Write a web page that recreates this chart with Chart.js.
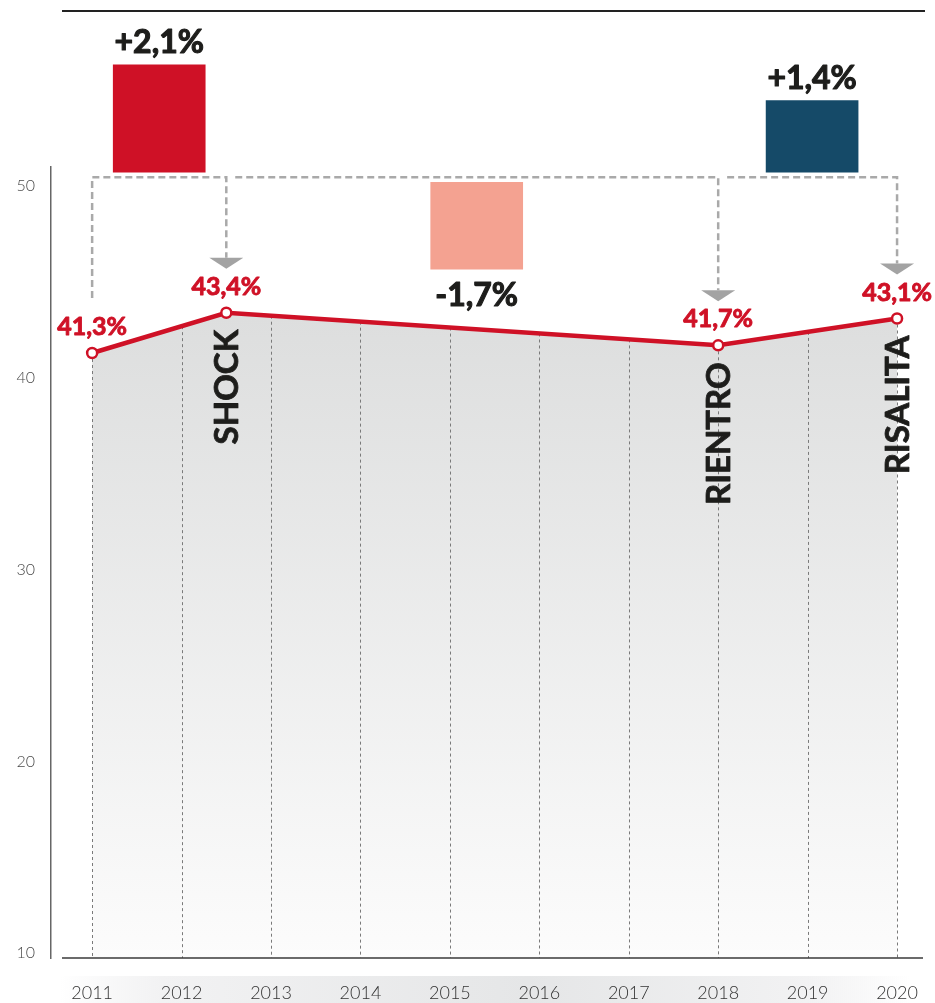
<!DOCTYPE html>
<html>
<head>
<meta charset="utf-8">
<title>Shock, rientro, risalita</title>
<script src="https://cdn.jsdelivr.net/npm/chart.js"></script>
<style>
  html, body { margin: 0; padding: 0; background: #fff; }
  #wrap { position: relative; width: 935px; height: 1003px; }
</style>
</head>
<body>
<div id="wrap"><canvas id="shockChart" width="935" height="1003"></canvas></div>
<script>
// years shown on the x axis
const years = [2011, 2012, 2013, 2014, 2015, 2016, 2017, 2018, 2019, 2020];
const yTicks = [10, 20, 30, 40, 50];

// the four points of the series (2012 peak sits mid-year)
const pointYears = [2011, 2012.5, 2018, 2020];
const pointValues = [41.3, 43.4, 41.7, 43.1];

// one phase between each pair of points
const phaseNames = ['SHOCK', 'RIENTRO', 'RISALITA'];
const phaseColors = ['#cf1126', '#f4a291', '#154a68'];

const RED = '#cf1126';
const INK = '#1d1d1b';
const FONT = 'Lato, "Open Sans", sans-serif';

function itNum(v, digits) {
  return v.toFixed(digits).replace('.', ',');
}

// heavy text: fill plus a thin outline in the same colour
function heavyText(c, txt, x, y, w) {
  c.lineWidth = w;
  c.lineJoin = 'round';
  c.strokeStyle = c.fillStyle;
  c.strokeText(txt, x, y);
  c.fillText(txt, x, y);
}

// change in each phase, from the point values
const phaseDeltas = phaseNames.map((n, i) =>
  Math.round((pointValues[i + 1] - pointValues[i]) * 10) / 10);

// brackets after the first start a little past the previous corner
const BRACKET_STEP = 0.1;
// floating bars just off the zero line (gap in bar units)
const BAR_GAP = 0.1;
const barData = phaseDeltas.map((d, i) => ({
  x: (pointYears[i] + (i > 0 ? BRACKET_STEP : 0) + pointYears[i + 1]) / 2,
  y: d >= 0 ? [BAR_GAP, BAR_GAP + d] : [-BAR_GAP, -BAR_GAP + d]
}));

const lineData = pointYears.map((yr, i) => ({ x: yr, y: pointValues[i] }));

function valueAt(yr) {
  for (let i = 0; i < pointYears.length - 1; i++) {
    const a = pointYears[i], b = pointYears[i + 1];
    if (yr >= a && yr <= b) {
      return pointValues[i] + (pointValues[i + 1] - pointValues[i]) * (yr - a) / (b - a);
    }
  }
  return null;
}

const decorations = {
  id: 'decorations',
  beforeDraw(chart) {
    const c = chart.ctx, area = chart.chartArea;
    c.save();
    // light band behind the year labels
    const g = c.createLinearGradient(60, 0, 910, 0);
    g.addColorStop(0, 'rgba(240,240,241,0)');
    g.addColorStop(0.12, '#f2f2f3');
    g.addColorStop(0.55, '#e5e6e7');
    g.addColorStop(0.88, '#f2f2f3');
    g.addColorStop(1, 'rgba(240,240,241,0)');
    c.fillStyle = g;
    c.fillRect(60, 976, 850, 27);
    // rule at the top
    c.strokeStyle = '#222';
    c.lineWidth = 2;
    c.beginPath();
    c.moveTo(area.left + 11, 11);
    c.lineTo(area.right + 2, 11);
    c.stroke();
    c.restore();
  },
  beforeDatasetsDraw(chart) {
    const c = chart.ctx, area = chart.chartArea;
    const xs = chart.scales.x, ys = chart.scales.y;
    c.save();
    // dotted drop lines under the curve
    c.strokeStyle = '#7a7a7a';
    c.lineWidth = 1;
    c.setLineDash([3, 3]);
    years.forEach(yr => {
      const v = valueAt(yr);
      if (v === null) return;
      const px = Math.round(xs.getPixelForValue(yr)) + 0.5;
      c.beginPath();
      c.moveTo(px, ys.getPixelForValue(v));
      c.lineTo(px, area.bottom);
      c.stroke();
    });
    c.setLineDash([]);
    // baseline
    c.strokeStyle = '#3a3a3a';
    c.lineWidth = 1.6;
    c.beginPath();
    c.moveTo(area.left + 11, area.bottom);
    c.lineTo(area.right, area.bottom);
    c.stroke();
    c.restore();
  },
  afterDatasetsDraw(chart) {
    const c = chart.ctx;
    const xs = chart.scales.x, ys = chart.scales.y, yb = chart.scales.yb;
    const zeroY = yb.getPixelForValue(0);
    const pts = pointYears.map((yr, i) => ({
      x: xs.getPixelForValue(yr),
      y: ys.getPixelForValue(pointValues[i])
    }));
    c.save();

    // dashed brackets from each phase bar to its end point
    c.strokeStyle = '#a9a9a9';
    c.lineWidth = 2.5;
    c.setLineDash([7, 4]);
    phaseNames.forEach((n, i) => {
      const p0 = pts[i], p1 = pts[i + 1];
      const arrowTip = p1.y - 44;
      c.beginPath();
      if (i === 0) {
        c.moveTo(p0.x, p0.y - 55);
        c.lineTo(p0.x, zeroY);
      } else {
        c.moveTo(xs.getPixelForValue(pointYears[i] + BRACKET_STEP), zeroY);
      }
      c.lineTo(p1.x, zeroY);
      c.lineTo(p1.x, arrowTip - 11);
      c.stroke();
    });
    c.setLineDash([]);
    c.fillStyle = '#a3a3a3';
    phaseNames.forEach((n, i) => {
      const p1 = pts[i + 1];
      const tip = p1.y - 44;
      c.beginPath();
      c.moveTo(p1.x - 17, tip - 11);
      c.lineTo(p1.x + 17, tip - 11);
      c.lineTo(p1.x, tip);
      c.closePath();
      c.fill();
    });

    // value labels over the points
    c.fillStyle = RED;
    c.font = 'bold 25px ' + FONT;
    c.textAlign = 'center';
    c.textBaseline = 'middle';
    pts.forEach((p, i) => {
      heavyText(c, itNum(pointValues[i], 1) + '%', p.x, p.y - 26, 0.9);
    });

    // delta labels on the bars
    const bars = chart.getDatasetMeta(1).data;
    c.fillStyle = INK;
    c.font = 'bold 32px ' + FONT;
    bars.forEach((bar, i) => {
      const d = phaseDeltas[i];
      const txt = (d >= 0 ? '+' : '-') + itNum(Math.abs(d), 1) + '%';
      heavyText(c, txt, bar.x, d >= 0 ? bar.y - 22 : bar.y + 27, 1.1);
    });

    // phase names, vertical under the end point
    c.font = 'bold 33px ' + FONT;
    c.textAlign = 'right';
    phaseNames.forEach((n, i) => {
      const p = pts[i + 1];
      c.save();
      c.translate(p.x + 1, p.y + 17);
      c.rotate(-Math.PI / 2);
      heavyText(c, n, 0, 0, 0.8);
      c.restore();
    });
    c.restore();
  }
};

const ctx = document.getElementById('shockChart').getContext('2d');
new Chart(ctx, {
  type: 'line',
  data: {
    datasets: [
      {
        type: 'line',
        data: lineData,
        yAxisID: 'y',
        borderColor: RED,
        borderWidth: 4.5,
        tension: 0,
        pointRadius: 5,
        pointBorderWidth: 2.5,
        pointBackgroundColor: '#fff',
        pointBorderColor: RED,
        fill: 'start',
        backgroundColor(context) {
          const area = context.chart.chartArea;
          if (!area) return '#e0e1e1';
          const g = context.chart.ctx.createLinearGradient(0, area.top + 130, 0, area.bottom);
          g.addColorStop(0, '#dcdddd');
          g.addColorStop(1, '#fcfcfc');
          return g;
        },
        order: 1
      },
      {
        type: 'bar',
        data: barData,
        yAxisID: 'yb',
        backgroundColor: phaseColors,
        barThickness: 92,
        clip: false,
        order: 2
      }
    ]
  },
  options: {
    responsive: false,
    animation: false,
    layout: { padding: { left: 0, right: 12, top: 167, bottom: 0 } },
    plugins: {
      legend: { display: false },
      tooltip: { enabled: false },
      filler: { drawTime: 'beforeDraw' }
    },
    scales: {
      x: {
        type: 'linear',
        min: 2010.54,
        max: 2020.29,
        offset: false,
        grid: { display: false, drawTicks: false },
        border: { display: false },
        afterBuildTicks(scale) { scale.ticks = years.map(v => ({ value: v })); },
        afterFit(scale) {
          scale.height = 45;
          scale.paddingLeft = 0;
          scale.paddingRight = 0;
        },
        ticks: {
          padding: 24,
          color: '#333',
          font: { family: FONT, size: 18, weight: '300' },
          callback: v => String(v)
        }
      },
      y: {
        min: 9.75,
        max: 51,
        grid: { display: false, drawTicks: false },
        border: { color: '#666', width: 1.5 },
        afterBuildTicks(scale) { scale.ticks = yTicks.map(v => ({ value: v })); },
        afterFit(scale) { scale.width = 51; },
        ticks: {
          padding: 16,
          color: '#4a4a4a',
          font: { family: FONT, size: 16, weight: '300' },
          callback: v => String(v)
        }
      },
      yb: {
        display: false,
        min: -15.3,
        max: 0.2
      }
    }
  },
  plugins: [decorations]
});
</script>
</body>
</html>
